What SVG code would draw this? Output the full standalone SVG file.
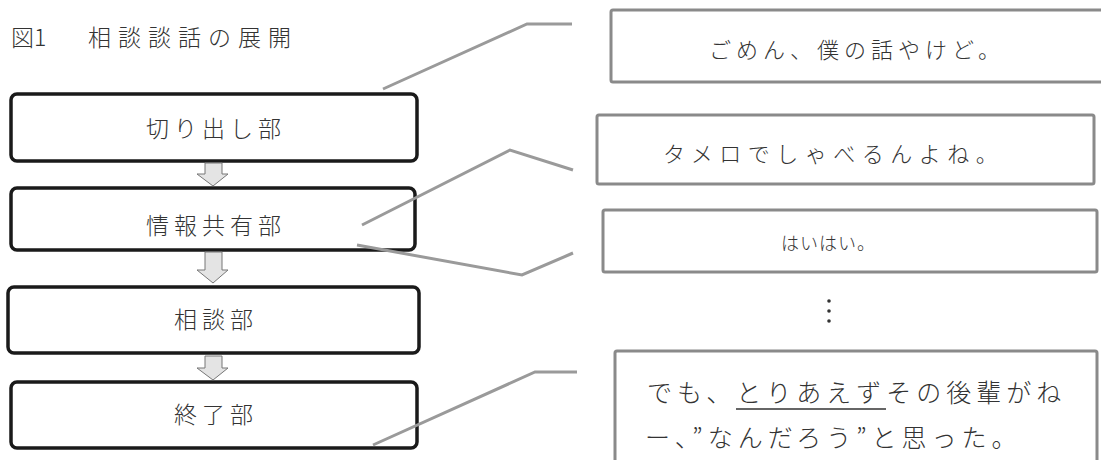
<svg xmlns="http://www.w3.org/2000/svg" width="1101" height="460" viewBox="0 0 1101 460">
<style>
.t{font-family:"Noto Sans CJK JP","Noto Sans CJK SC",sans-serif;fill:#333;font-weight:300}
.lb{fill:#fff;stroke:#1a1a1a;stroke-width:3.5}
.rb{fill:#fff;stroke:#8a8a8a;stroke-width:3}
.con{fill:none;stroke:#9a9a9a;stroke-width:3;stroke-linejoin:miter}
.arr{fill:#e4e4e4;stroke:#777;stroke-width:1}
</style>
<rect width="1101" height="460" fill="#fff"/>
<g id="title">
<text class="t" x="11" y="46" font-size="23">図1</text>
<text class="t" x="88" y="46" font-size="23" letter-spacing="7">相談談話の展開</text>
</g>
<g id="node-kiridashi">
<rect class="lb" x="11" y="94" width="406" height="67" rx="6"/>
<text class="t" x="216" y="137" font-size="23" letter-spacing="5" text-anchor="middle">切り出し部</text>
</g>
<g id="node-jouhou">
<rect class="lb" x="11" y="188" width="404" height="62" rx="6"/>
<text class="t" x="216" y="234" font-size="23" letter-spacing="5" text-anchor="middle">情報共有部</text>
</g>
<g id="node-soudan">
<rect class="lb" x="8" y="287" width="411" height="66" rx="6"/>
<text class="t" x="216" y="328" font-size="23" letter-spacing="5" text-anchor="middle">相談部</text>
</g>
<g id="node-shuuryou">
<rect class="lb" x="11" y="382" width="406" height="66" rx="6"/>
<text class="t" x="216" y="423" font-size="23" letter-spacing="5" text-anchor="middle">終了部</text>
</g>
<g id="flow-arrows">
<path class="arr" d="M205,163 H222 V174 H228 L213,186 L197,174 H205 Z"/>
<path class="arr" d="M205,252 H222 V270 H228 L213,283 L197,270 H205 Z"/>
<path class="arr" d="M205,356 H222 V368 H228 L213,380 L197,368 H205 Z"/>
</g>
<g id="utt-a">
<rect class="rb" x="611" y="10" width="494" height="72" rx="2"/>
<text class="t" x="709" y="58" font-size="22" letter-spacing="5">ごめん、僕の話やけど。</text>
</g>
<g id="utt-b">
<rect class="rb" x="597" y="115" width="497" height="69" rx="2"/>
<text class="t" x="663" y="162" font-size="22" letter-spacing="6.5">タメロでしゃべるんよね。</text>
</g>
<g id="utt-c">
<rect class="rb" x="603" y="210" width="494" height="62" rx="2"/>
<text class="t" x="781" y="250" font-size="18" letter-spacing="1">はいはい。</text>
</g>
<g id="ellipsis">
<circle cx="829" cy="301" r="1.8" fill="#333"/>
<circle cx="829" cy="311" r="1.8" fill="#333"/>
<circle cx="829" cy="321" r="1.8" fill="#333"/>
</g>
<g id="utt-d">
<rect class="rb" x="615" y="351" width="482" height="130" rx="2"/>
<text class="t" x="647" y="402" font-size="25" letter-spacing="5">でも、とりあえずその後輩がね</text>
<line x1="736" y1="409" x2="886" y2="409" stroke="#333" stroke-width="1.5"/>
<text class="t" x="645" y="447" font-size="25" letter-spacing="5">ー、”なんだろう”と思った。</text>
</g>
<g id="connectors">
<polyline class="con" points="383,89 527,24 572,24"/>
<polyline class="con" points="362,225 510,150 573,170"/>
<polyline class="con" points="357,245 522,275 573,253"/>
<polyline class="con" points="373,445 535,372 577,372"/>
</g>
</svg>
